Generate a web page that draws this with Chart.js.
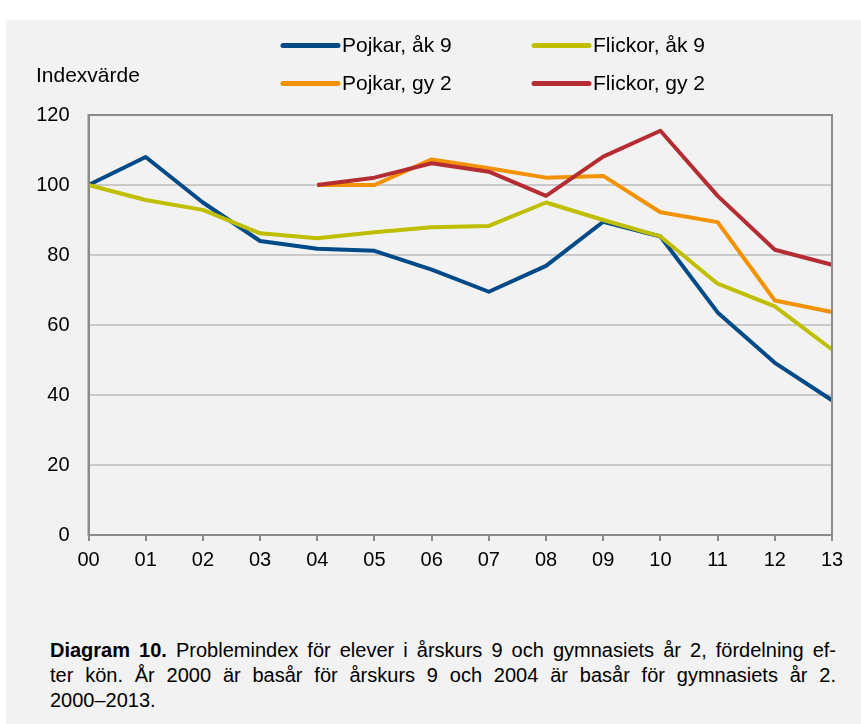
<!DOCTYPE html>
<html lang="sv">
<head>
<meta charset="UTF-8">
<title>Diagram 10 - Problemindex</title>
<script src="https://cdn.jsdelivr.net/npm/chart.js"></script>
<style>
    body {
        margin: 0;
        background: #fff;
        font-family: "Liberation Sans", Arial, sans-serif;
    }
    .panel {
        position: absolute;
        left: 6px;
        top: 20px;
        width: 855px;
        height: 704px;
        background: #f2f2f2;
    }
    #chart {
        position: absolute;
        left: 0;
        top: 0;
    }
    .caption {
        position: absolute;
        left: 50px;
        top: 638px;
        width: 786px;
        font-size: 20px;
        line-height: 25px;
        color: #000;
    }
    .caption .j {
        text-align: justify;
        text-align-last: justify;
        white-space: nowrap;
    }
</style>
</head>
<body>
<div class="panel"></div>
<canvas id="chart" width="861" height="600"></canvas>
<div class="caption">
    <div class="j"><b>Diagram 10.</b> Problemindex för elever i årskurs 9 och gymnasiets år 2, fördelning ef-</div>
    <div class="j">ter kön. År 2000 är basår för årskurs 9 och 2004 är basår för gymnasiets år 2.</div>
    <div>2000–2013.</div>
</div>

<script>
// Data
const years = ['00', '01', '02', '03', '04', '05', '06', '07', '08', '09', '10', '11', '12', '13'];
const boys9 = [100, 108, 95, 84, 81.8, 81.2, 75.8, 69.5, 76.9, 89.5, 85.3, 63.6, 49.2, 38.5];
const girls9 = [100, 95.7, 92.9, 86.2, 84.8, 86.5, 87.9, 88.3, 95, 90, 85.3, 71.8, 65.3, 53];
const boysGy2 = [null, null, null, null, 100, 100, 107.3, 104.8, 102.1, 102.6, 92.2, 89.4, 67, 63.7];
const girlsGy2 = [null, null, null, null, 100, 102.1, 106.2, 103.8, 96.9, 108.1, 115.5, 96.9, 81.5, 77.2];
const yTicks = [0, 20, 40, 60, 80, 100, 120];

const seriesNames = ['Pojkar, åk 9', 'Flickor, åk 9', 'Pojkar, gy 2', 'Flickor, gy 2'];
const seriesColors = ['#004a87', '#bfbf00', '#f39200', '#b52d32'];

const FONT = '"Liberation Sans", Arial, sans-serif';

// frame around the plot area + legend + y title
const decorations = {
    id: 'decorations',
    afterDatasetsDraw(chart) {
        const ctx = chart.ctx;
        const a = chart.chartArea;
        ctx.save();
        ctx.strokeStyle = '#8c8c8c';
        ctx.lineWidth = 2;
        ctx.strokeRect(a.left, a.top, a.right - a.left, a.bottom - a.top);

        ctx.font = '21px ' + FONT;
        ctx.fillStyle = '#000';
        ctx.textBaseline = 'alphabetic';
        ctx.fillText('Indexvärde', 36, 82);

        const cols = [283, 534];
        const rows = [45.5, 83.5];
        seriesNames.forEach((name, i) => {
            const x = cols[i % 2];
            const y = rows[Math.floor(i / 2)];
            ctx.strokeStyle = seriesColors[i];
            ctx.lineWidth = 5;
            ctx.lineCap = 'round';
            ctx.beginPath();
            ctx.moveTo(x, y);
            ctx.lineTo(x + 55, y);
            ctx.stroke();
            ctx.fillText(name, x + 59, y + 6.5);
        });
        ctx.restore();
    }
};

const makeSet = (i, data, order) => ({
    label: seriesNames[i],
    data: data,
    borderColor: seriesColors[i],
    backgroundColor: seriesColors[i],
    borderWidth: 4,
    pointRadius: 0,
    borderJoinStyle: 'round',
    tension: 0,
    order: order
});

new Chart(document.getElementById('chart'), {
    type: 'line',
    data: {
        labels: years,
        datasets: [
            makeSet(0, boys9, 4),
            makeSet(1, girls9, 3),
            makeSet(2, boysGy2, 2),
            makeSet(3, girlsGy2, 1)
        ]
    },
    options: {
        responsive: false,
        animation: false,
        layout: {
            padding: { left: 28.5, right: 29, top: 115, bottom: 25 }
        },
        scales: {
            x: {
                offset: false,
                grid: {
                    drawOnChartArea: false,
                    drawTicks: true,
                    tickLength: 6,
                    color: '#8c8c8c',
                    lineWidth: 2
                },
                border: { color: '#8c8c8c', width: 2 },
                ticks: {
                    color: '#000',
                    font: { size: 20, family: FONT },
                    padding: 7,
                    maxRotation: 0,
                    autoSkip: false
                },
                afterFit(scale) { scale.height = 40; }
            },
            y: {
                min: 0,
                max: 120,
                afterBuildTicks(scale) {
                    scale.ticks = yTicks.map(v => ({ value: v }));
                },
                grid: {
                    color: '#c9c9c9',
                    lineWidth: 2,
                    drawTicks: false
                },
                border: { color: '#8c8c8c', width: 2 },
                ticks: {
                    color: '#000',
                    font: { size: 20, family: FONT },
                    padding: 19
                },
                afterFit(scale) { scale.width = 60; }
            }
        },
        plugins: {
            legend: { display: false },
            tooltip: { enabled: false }
        }
    },
    plugins: [decorations]
});
</script>
</body>
</html>
